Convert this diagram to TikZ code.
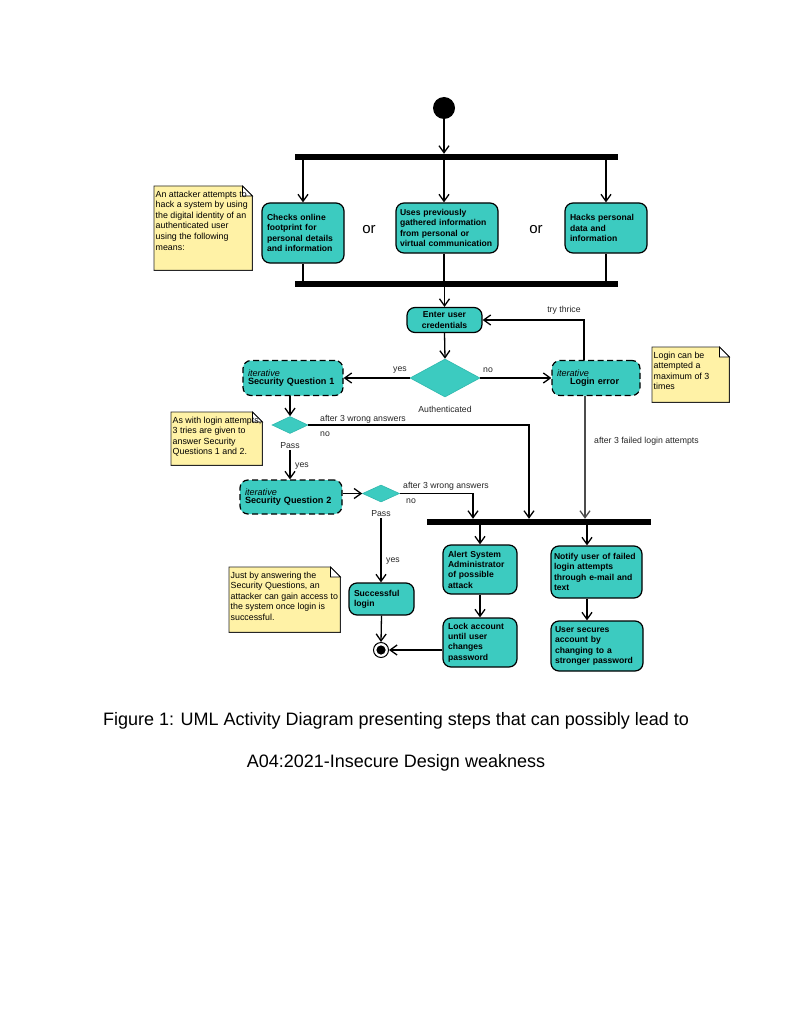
\documentclass[tikz,border=0pt]{standalone}
\usepackage{fontspec}
\setmainfont{Liberation Sans}
\usetikzlibrary{shapes.geometric,arrows.meta}
\definecolor{actfill}{HTML}{3CCBC0}
\definecolor{actdia}{HTML}{2FB8AD}
\definecolor{notefill}{HTML}{FFF2A6}
\newcommand\boxfont{\fontsize{8.6}{10.3}\selectfont\bfseries}
\newcommand\sqfont{\fontsize{9.1}{10.3}\selectfont\bfseries}
\newcommand\notefont{\fontsize{8.85}{10.6}\selectfont}
\newcommand\lblfont{\fontsize{8.7}{10}\selectfont}
\begin{document}
\begin{tikzpicture}[x=1pt,y=-1pt,
  ln/.style={line width=1.3pt},
  arr/.style={line width=1.3pt,-{Straight Barb[length=7pt,width=10pt,line width=1.3pt]}},
  actbox/.style={draw, fill=actfill, rounded corners=8pt, line width=1.2pt, font=\boxfont, align=left, inner xsep=5pt, inner ysep=2pt},
  dashbox/.style={actbox, font=\sqfont, dash pattern=on 6pt off 3.5pt},
  bar/.style={fill=black, inner sep=0pt, minimum height=6pt, draw=none},
  dia/.style={diamond, fill=actfill, draw=actdia, line width=0.6pt, inner sep=0pt},
  lbl/.style={font=\lblfont, inner sep=1pt, text=black!85},
  notebg/.style={inner sep=0pt, anchor=north west},
  notetxt/.style={font=\notefont, align=left, anchor=north west, inner sep=1.5pt},
  noteline/.style={fill=notefill, draw=black!85, line width=0.9pt}
]
\useasboundingbox[fill=white] (0,0) rectangle (791,1024);
\hyphenpenalty=10000

% start and first fork
\node[circle, fill=black, minimum size=22pt, inner sep=0pt] (start) at (444,108) {};
\node[bar, minimum width=323pt] (bar1) at (456.5,157) {};
\node[bar, minimum width=323pt] (bar2) at (456.5,284) {};
\draw[arr] (start.south) -- (start.south |- bar1.north);

% three means
\node[actbox, text width=72pt, minimum height=60pt] (b1) at (303,233)
  {Checks online\\footprint for\\personal details\\and information};
\node[actbox, text width=94pt, inner xsep=4pt, minimum height=50pt] (b2) at (447,228)
  {Uses previously\\gathered information\\from personal or\\virtual communication};
\node[actbox, text width=72pt, minimum height=50pt] (b3) at (606,228)
  {Hacks personal\\data and\\information\\[9pt]};
\node[font=\fontsize{15}{17}\selectfont] (or1) at (369,230) {or};
\node[font=\fontsize{15}{17}\selectfont] (or2) at (536,230) {or};

\draw[arr] ([xshift=-3pt]b2.north |- bar1.south) -- ([xshift=-3pt]b2.north);
\draw[arr] (b1.north |- bar1.south) -- (b1.north);
\draw[arr] (b3.north |- bar1.south) -- (b3.north);
\draw[ln] (b1.south) -- (b1.south |- bar2.north);
\draw[ln] ([xshift=-3pt]b2.south) -- ([xshift=-3pt]b2.south |- bar2.north);
\draw[ln] (b3.south) -- (b3.south |- bar2.north);

% note 1
\node[notebg, minimum width=98pt, minimum height=84pt] (n1) at (154,186) {};
\draw[noteline] (n1.north west) -- ([xshift=-10pt]n1.north east) -- ([yshift=-10pt]n1.north east) -- (n1.south east) -- (n1.south west) -- cycle;
\draw[line width=0.8pt, fill=white] ([xshift=-10pt]n1.north east) -- ([xshift=-10pt,yshift=-10pt]n1.north east) -- ([yshift=-10pt]n1.north east) -- cycle;
\node[notetxt] (n1t) at ([yshift=-3pt]n1.north west)
  {An attacker attempts to\\hack a system by using\\the digital identity of an\\authenticated user\\using the following\\means:};

% login
\node[actbox, align=center, text width=65pt, minimum height=25pt] (enter) at (444.5,320) {Enter user\\credentials};
\draw[arr] (enter.north |- bar2.south) -- (enter.north);
\node[dia, minimum width=70pt, minimum height=38pt] (dia1) at (445,378) {};
\node[lbl] (auth) at (445,409) {Authenticated};
\draw[arr] (enter.south) -- (dia1.north);

\node[dashbox, text width=90pt, minimum height=35pt] (sq1) at (293,378)
  {{\normalfont\itshape iterative}\\[-2.5pt]Security Question 1};
\node[dashbox, text width=78pt, minimum height=35pt] (lerr) at (596,378)
  {{\normalfont\itshape iterative}\\[-2.5pt]\hspace*{13pt}Login error};
\draw[arr] (dia1.west) -- (sq1.east);
\draw[arr] (dia1.east) -- (lerr.west);
\node[lbl] (yes1) at (400,370) {yes};
\node[lbl] (no1) at (488,370) {no};
\draw[arr] ([xshift=-12pt]lerr.north) |- (enter.east);
\node[lbl] (try) at (564,310) {try thrice};

% note 2
\node[notebg, minimum width=77pt, minimum height=55pt] (n2) at (652,347) {};
\draw[noteline] (n2.north west) -- ([xshift=-10pt]n2.north east) -- ([yshift=-10pt]n2.north east) -- (n2.south east) -- (n2.south west) -- cycle;
\draw[line width=0.8pt, fill=white] ([xshift=-10pt]n2.north east) -- ([xshift=-10pt,yshift=-10pt]n2.north east) -- ([yshift=-10pt]n2.north east) -- cycle;
\node[notetxt] (n2t) at ([yshift=-3pt]n2.north west)
  {Login can be\\attempted a\\maximum of 3\\times};

% third bar
\node[bar, minimum width=224pt] (bar3) at (539,522) {};
\draw[arr, draw=black!70] ([xshift=-11pt]lerr.south) -- ([xshift=-11pt]lerr.south |- bar3.north);
\node[lbl, anchor=west] (fail) at (593,441) {after 3 failed login attempts};

% security question 1 decision
\node[dia, minimum width=36pt, minimum height=17pt] (dia2) at (290,425) {};
\draw[arr] (dia2.north |- sq1.south) -- (dia2.north);
\coordinate (j2) at (529,425);
\draw[arr] (dia2.east) -| (j2 |- bar3.north);
\node[lbl, anchor=west] (w2) at (319,419) {after 3 wrong answers};
\node[lbl, anchor=west] (no2) at (319,434) {no};
\node[lbl] (pass2) at (290,446) {Pass};
\node[lbl, anchor=west] (yes2) at (294,466) {yes};

% note 3
\node[notebg, minimum width=91pt, minimum height=53pt] (n3) at (171,412) {};
\draw[noteline] (n3.north west) -- ([xshift=-10pt]n3.north east) -- ([yshift=-10pt]n3.north east) -- (n3.south east) -- (n3.south west) -- cycle;
\draw[line width=0.8pt, fill=white] ([xshift=-10pt]n3.north east) -- ([xshift=-10pt,yshift=-10pt]n3.north east) -- ([yshift=-10pt]n3.north east) -- cycle;
\node[notetxt] (n3t) at ([yshift=-3pt]n3.north west)
  {As with login attempts,\\3 tries are given to\\answer Security\\Questions 1 and 2.};

% security question 2
\node[dashbox, text width=92pt, minimum height=34pt] (sq2) at (291,497)
  {{\normalfont\itshape iterative}\\[-2.5pt]Security Question 2};
\draw[arr] (pass2.south) -- (pass2.south |- sq2.north);
\node[dia, minimum width=37pt, minimum height=17pt] (dia3) at (381,493.5) {};
\draw[arr] (sq2.east |- dia3.west) -- (dia3.west);
\coordinate (j3) at (473,493.5);
\draw[arr] (dia3.east) -| (j3 |- bar3.north);
\node[lbl, anchor=west] (w3) at (402,486) {after 3 wrong answers};
\node[lbl, anchor=west] (no3) at (405,501) {no};
\node[lbl] (pass3) at (381,514) {Pass};
\node[lbl, anchor=west] (yes3) at (385,561) {yes};

% outcomes
\node[actbox, text width=64pt, minimum height=49pt] (alert) at (480,569.5)
  {Alert System\\Administrator\\of possible\\attack};
\node[actbox, text width=64pt, minimum height=49pt] (lock) at (480,642.5)
  {Lock account\\until user\\changes\\password};
\node[actbox, text width=85pt, inner xsep=3pt, minimum height=52pt] (notify) at (596.5,572)
  {Notify user of failed\\login attempts\\through e-mail and\\text};
\node[actbox, text width=84pt, inner xsep=4pt, minimum height=50pt] (usec) at (597,646)
  {User secures\\account by\\changing to a\\stronger password};
\draw[arr] (alert.north |- bar3.south) -- (alert.north);
\draw[arr] ([xshift=-9.5pt]notify.north |- bar3.south) -- ([xshift=-9.5pt]notify.north);
\draw[arr] (alert.south) -- (lock.north);
\draw[arr] ([xshift=-9.5pt]notify.south) -- ([xshift=-9.5pt]notify.south |- usec.north);

\node[actbox, text width=55pt, minimum height=32pt] (succ) at (381.5,599) {Successful\\login};
\draw[arr] (pass3.south) -- (pass3.south |- succ.north);
\node[circle, draw, line width=1pt, minimum size=15pt, inner sep=0pt,
  path picture={\fill (path picture bounding box.center) circle (4.6pt);}] (end) at (381,650) {};
\draw[arr] (succ.south) -- (end.north);
\draw[arr] (lock.west |- end) -- (end.east);

% note 4
\node[notebg, minimum width=111pt, minimum height=65pt] (n4) at (229,567) {};
\draw[noteline] (n4.north west) -- ([xshift=-10pt]n4.north east) -- ([yshift=-10pt]n4.north east) -- (n4.south east) -- (n4.south west) -- cycle;
\draw[line width=0.8pt, fill=white] ([xshift=-10pt]n4.north east) -- ([xshift=-10pt,yshift=-10pt]n4.north east) -- ([yshift=-10pt]n4.north east) -- cycle;
\node[notetxt] (n4t) at ([yshift=-3pt]n4.north west)
  {Just by answering the\\Security Questions, an\\attacker can gain access to\\the system once login is\\successful.};

% caption
\node[font=\fontsize{18}{20}\selectfont] (cap1) at (396,721) {Figure 1: UML Activity Diagram presenting steps that can possibly lead to};
\node[font=\fontsize{18}{20}\selectfont] (cap2) at (396,763) {A04:2021-Insecure Design weakness};
\end{tikzpicture}
\end{document}
